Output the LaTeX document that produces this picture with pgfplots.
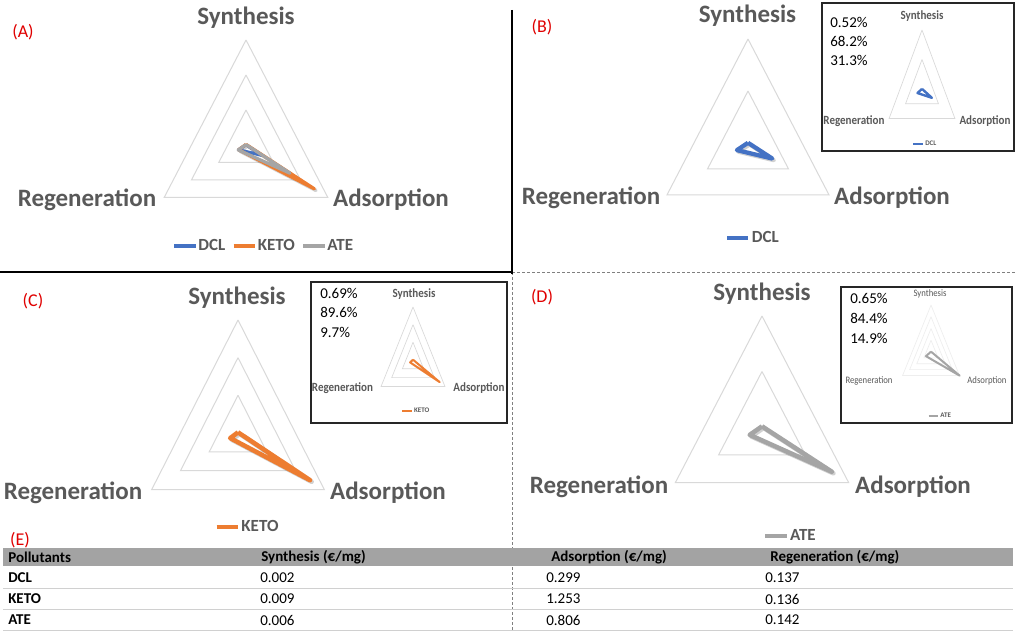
\documentclass[border=0pt]{standalone}
\usepackage{fontspec}
\setmainfont{Carlito}
\usepackage{pgfplots}
\pgfplotsset{compat=1.18}
\usepgfplotslibrary{polar}

\definecolor{dcl}{HTML}{4472C4}
\definecolor{keto}{HTML}{ED7D31}
\definecolor{ate}{HTML}{A5A5A5}
\definecolor{gridc}{HTML}{D9D9D9}
\definecolor{gridf}{HTML}{EEEEEE}
\definecolor{lab}{HTML}{595959}
\definecolor{panred}{HTML}{E00000}
\definecolor{hdr}{HTML}{A3A3A3}
\definecolor{rowl}{HTML}{D0D0D0}

\pgfplotsset{
  radar/.style={hide axis, clip=false, xmin=-1, xmax=1, ymin=-1, ymax=1,
    anchor=center, data cs=polar,
    legend columns=-1,
    legend style={draw=none, fill=none, anchor=center, text=lab,
      font=\bfseries\fontsize{12.75}{14}\selectfont,
      /tikz/every odd column/.append style={column sep=0pt},
      /tikz/every even column/.append style={column sep=4pt},
      nodes={inner sep=1pt}},
    legend image code/.code={\draw[##1] (0pt,0pt) -- (16pt,0pt);},
  },
  smallradar/.style={radar,
    legend style={font=\bfseries\fontsize{5.25}{6}\selectfont},
    legend image code/.code={\draw[##1] (0pt,0pt) -- (7pt,0pt);},
  },
  grd/.style={gridc, line width=0.75pt, forget plot},
  grds/.style={gridc, line width=0.5pt, forget plot},
  grdf/.style={gridf, line width=0.5pt, forget plot},
  shd/.style={black, opacity=0.18, line width=#1, line join=round, forget plot, xshift=1.2pt, yshift=-1.2pt},
}

\tikzset{
  big/.style={font=\bfseries\fontsize{18.75}{20}\selectfont, text=lab, inner sep=0pt},
  pan/.style={font=\fontsize{13.5}{14}\selectfont, text=panred, inner sep=0pt},
  sml/.style={font=\bfseries\fontsize{9.4}{10}\selectfont, text=lab, inner sep=0pt, xscale=0.88},
  smlr/.style={font=\fontsize{7.4}{8}\selectfont, text=lab, inner sep=0pt, xscale=0.88},
  pct/.style={font=\fontsize{11.25}{12}\selectfont, text=black, inner sep=0pt, anchor=west},
  tb/.style={font=\fontsize{11.25}{12}\selectfont, text=black, inner sep=0pt, anchor=west},
  tbb/.style={font=\bfseries\fontsize{11.25}{12}\selectfont, text=black, inner sep=0pt, anchor=west},
}

\begin{document}
\begin{tikzpicture}[x=0.75pt, y=0.75pt]
\useasboundingbox (0,0) rectangle (1016,632);
\fill[white] (0,0) rectangle (1016,632);

% ---------------- dividers
\draw[gray, line width=0.6pt, dash pattern=on 2.25pt off 1.5pt] (512,360) -- (1016,360);
\draw[gray, line width=0.6pt, dash pattern=on 2.25pt off 1.5pt] (512,360) -- (512,0);
\draw[black, line width=1.3pt] (0,360) -- (512,360);
\draw[black, line width=1.3pt] (512,622) -- (512,358);

% ---------------- Panel A
\begin{axis}[radar, at={(184.5pt,365.25pt)}, x=47.25pt, y=52.5pt,
  legend style={at={(0.639,-0.221)}}]
\addplot[grd] coordinates {(90,0.5) (330,0.5) (210,0.5) (90,0.5)};
\addplot[grd] coordinates {(90,1.0) (330,1.0) (210,1.0) (90,1.0)};
\addplot[grd] coordinates {(90,1.5) (330,1.5) (210,1.5) (90,1.5)};
\addplot[shd=2.6pt] coordinates {(90,0.009) (330,1.253) (210,0.136) (90,0.009)};
\addplot[dcl, line width=2.4pt, line join=round] coordinates {(90,0.002) (330,0.299) (210,0.137) (90,0.002)};
\addlegendentry{DCL}
\addplot[keto, line width=2.4pt, line join=round] coordinates {(90,0.009) (330,1.253) (210,0.136) (90,0.009)};
\addlegendentry{KETO}
\addplot[ate, line width=2.4pt, line join=round] coordinates {(90,0.006) (330,0.806) (210,0.142) (90,0.006)};
\addlegendentry{ATE}
\end{axis}
\node[pan] at (23,600) {(A)};
\node[big] at (246,614) {Synthesis};
\node[big] at (87,432) {Regeneration};
\node[big] at (391,432) {Adsorption};

% ---------------- Panel B
\begin{axis}[radar, at={(561pt,366.75pt)}, x=70.2pt, y=78pt,
  legend style={at={(0.524,0.043)}}]
\addplot[grd] coordinates {(90,0.5) (330,0.5) (210,0.5) (90,0.5)};
\addplot[grd] coordinates {(90,1.0) (330,1.0) (210,1.0) (90,1.0)};
\addplot[shd=3.2pt] coordinates {(90,0.002) (330,0.299) (210,0.137) (90,0.002)};
\addplot[dcl, line width=3.2pt, line join=round] coordinates {(90,0.002) (330,0.299) (210,0.137) (90,0.002)};
\addlegendentry{DCL}
\end{axis}
\node[pan] at (542,605) {(B)};
\node[big] at (747.5,616) {Synthesis};
\node[big] at (591,434) {Regeneration};
\node[big] at (892,434) {Adsorption};

% inset B
\draw[black!85, line width=1pt, fill=white] (822,629) rectangle (1014,481);
\begin{axis}[smallradar, at={(691.5pt,407.25pt)}, x=28.5pt, y=44.25pt,
  legend style={at={(0.539,0.034)}}]
\addplot[grds] coordinates {(90,0.5) (330,0.5) (210,0.5) (90,0.5)};
\addplot[grds] coordinates {(90,1.0) (330,1.0) (210,1.0) (90,1.0)};
\addplot[dcl, line width=1.8pt, line join=round] coordinates {(90,0.002) (330,0.299) (210,0.137) (90,0.002)};
\addlegendentry{DCL}
\end{axis}
\node[pct] at (830,610) {0.52\%};
\node[pct] at (830,590.5) {68.2\%};
\node[pct] at (830,571.5) {31.3\%};
\node[sml] at (922,616) {Synthesis};
\node[sml] at (854,511) {Regeneration};
\node[sml] at (985,511) {Adsorption};

% ---------------- Panel C
\begin{axis}[radar, at={(178.5pt,149.25pt)}, x=49.8pt, y=56.5pt,
  legend style={at={(0.568,-0.124)}}]
\addplot[grd] coordinates {(90,0.5) (330,0.5) (210,0.5) (90,0.5)};
\addplot[grd] coordinates {(90,1.0) (330,1.0) (210,1.0) (90,1.0)};
\addplot[grd] coordinates {(90,1.5) (330,1.5) (210,1.5) (90,1.5)};
\addplot[shd=3.4pt] coordinates {(90,0.009) (330,1.253) (210,0.136) (90,0.009)};
\addplot[keto, line width=3.4pt, line join=round] coordinates {(90,0.009) (330,1.253) (210,0.136) (90,0.009)};
\addlegendentry{KETO}
\end{axis}
\node[pan] at (33,331) {(C)};
\node[big] at (237,334) {Synthesis};
\node[big] at (73,139) {Regeneration};
\node[big] at (388,139) {Adsorption};

% inset C
\draw[black!85, line width=1pt, fill=white] (311,350) rectangle (507,209);
\begin{axis}[smallradar, at={(309.75pt,204pt)}, x=18.45pt, y=26.5pt,
  legend style={at={(0.561,-0.222)}}]
\addplot[grds] coordinates {(90,0.5) (330,0.5) (210,0.5) (90,0.5)};
\addplot[grds] coordinates {(90,1.0) (330,1.0) (210,1.0) (90,1.0)};
\addplot[grds] coordinates {(90,1.5) (330,1.5) (210,1.5) (90,1.5)};
\addplot[keto, line width=1.5pt, line join=round] coordinates {(90,0.009) (330,1.253) (210,0.136) (90,0.009)};
\addlegendentry{KETO}
\end{axis}
\node[pct] at (320,339) {0.69\%};
\node[pct] at (320,320) {89.6\%};
\node[pct] at (320,300) {9.7\%};
\node[sml] at (414,338) {Synthesis};
\node[sml] at (342.5,244) {Regeneration};
\node[sml] at (479,244) {Adsorption};

% ---------------- Panel D
\begin{axis}[radar, at={(571.5pt,153.75pt)}, x=75pt, y=83.25pt,
  legend style={at={(0.64,0.009)}}]
\addplot[grd] coordinates {(90,0.5) (330,0.5) (210,0.5) (90,0.5)};
\addplot[grd] coordinates {(90,1.0) (330,1.0) (210,1.0) (90,1.0)};
\addplot[shd=3.4pt] coordinates {(90,0.006) (330,0.806) (210,0.142) (90,0.006)};
\addplot[ate, line width=3.4pt, line join=round] coordinates {(90,0.006) (330,0.806) (210,0.142) (90,0.006)};
\addlegendentry{ATE}
\end{axis}
\node[pan] at (542,335) {(D)};
\node[big] at (762,338) {Synthesis};
\node[big] at (599,145) {Regeneration};
\node[big] at (913,145) {Adsorption};

% inset D
\draw[black!85, line width=1pt, fill=white] (841,345) rectangle (1012,209);
\begin{axis}[smallradar, at={(698.25pt,210pt)}, x=30.75pt, y=44pt,
  legend style={at={(0.61,-0.045)}}]
\addplot[grdf] coordinates {(90,0.2) (330,0.2) (210,0.2) (90,0.2)};
\addplot[grdf] coordinates {(90,0.4) (330,0.4) (210,0.4) (90,0.4)};
\addplot[grdf] coordinates {(90,0.6) (330,0.6) (210,0.6) (90,0.6)};
\addplot[grdf] coordinates {(90,0.8) (330,0.8) (210,0.8) (90,0.8)};
\addplot[ate, line width=1.5pt, line join=round] coordinates {(90,0.006) (330,0.806) (210,0.142) (90,0.006)};
\addlegendentry{ATE}
\end{axis}
\node[pct] at (850,334) {0.65\%};
\node[pct] at (850,314) {84.4\%};
\node[pct] at (850,294) {14.9\%};
\node[smlr] at (930,338) {Synthesis};
\node[smlr] at (869,251) {Regeneration};
\node[smlr] at (987,251) {Adsorption};

% ---------------- Table (E)
\node[pan] at (20,92) {(E)};
\fill[hdr] (3,84) rectangle (1013,66);
\draw[rowl, line width=0.6pt] (3,44) -- (1013,44);
\draw[rowl, line width=0.6pt] (3,23) -- (1013,23);
\draw[rowl, line width=0.6pt] (3,2) -- (1013,2);
\node[tbb] at (8,75) {Pollutants};
\node[tbb] at (261,75) {Synthesis (€/mg)};
\node[tbb] at (551,75) {Adsorption (€/mg)};
\node[tbb] at (770,75) {Regeneration (€/mg)};
\node[tbb] at (8,54) {DCL};
\node[tb] at (260,54) {0.002};
\node[tb] at (546,54) {0.299};
\node[tb] at (765,54) {0.137};
\node[tbb] at (8,33) {KETO};
\node[tb] at (260,33) {0.009};
\node[tb] at (546,33) {1.253};
\node[tb] at (765,33) {0.136};
\node[tbb] at (8,12) {ATE};
\node[tb] at (260,12) {0.006};
\node[tb] at (546,12) {0.806};
\node[tb] at (765,12) {0.142};
\end{tikzpicture}
\end{document}
